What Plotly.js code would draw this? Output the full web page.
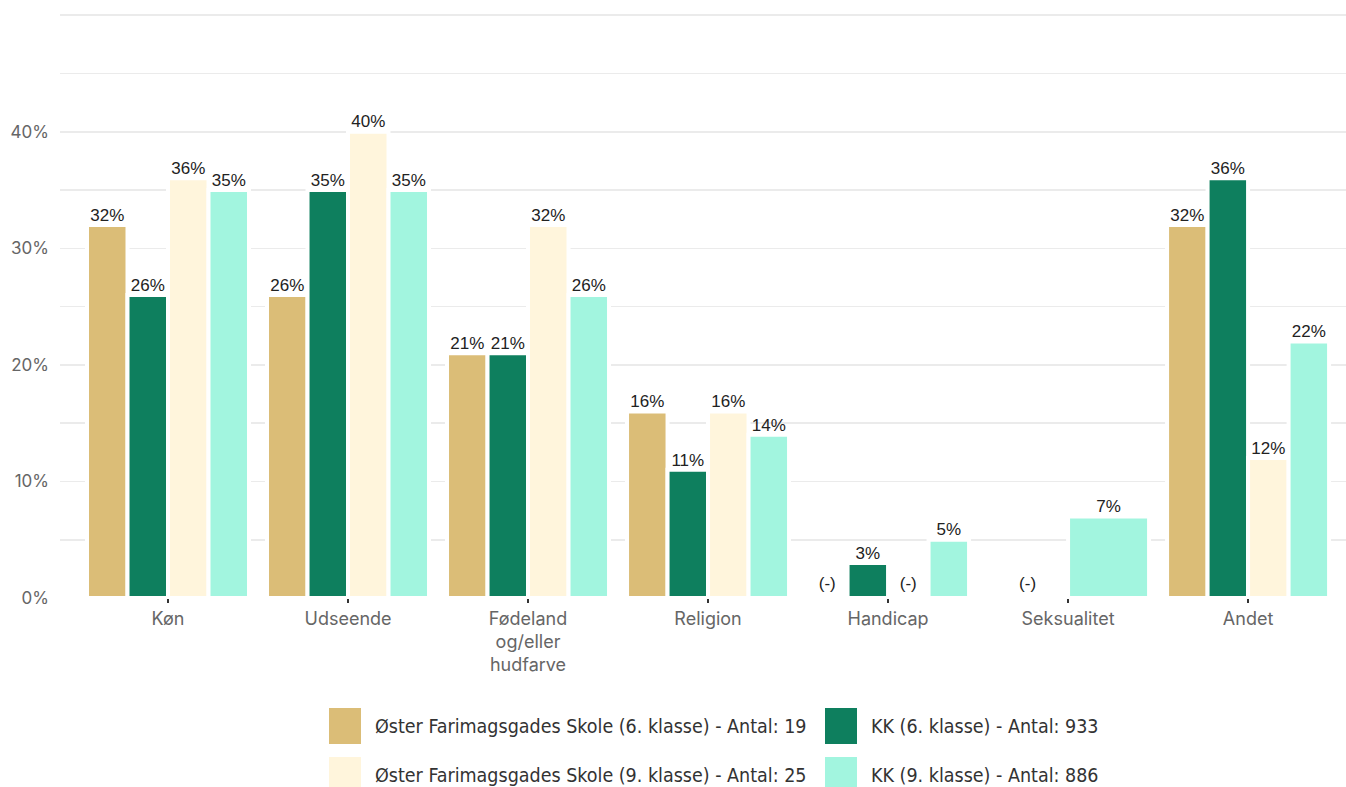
<!DOCTYPE html>
<html>
<head>
<meta charset="utf-8">
<script src="https://cdn.plot.ly/plotly-3.0.1.min.js"></script>
<style>
html,body{margin:0;padding:0;background:#fff;}
#chart{width:1346px;height:787px;}
</style>
</head>
<body>
<div id="chart"></div>
<script>
// ---- data ----
const categories = ["Køn", "Udseende", "Fødeland<br>og/eller<br>hudfarve", "Religion", "Handicap", "Seksualitet", "Andet"];
// '-' = suppressed value shown as "(-)", null = no bar in that group
const seriesNames = [
  "Øster Farimagsgades Skole (6. klasse) - Antal: 19",
  "KK (6. klasse) - Antal: 933",
  "Øster Farimagsgades Skole (9. klasse) - Antal: 25",
  "KK (9. klasse) - Antal: 886"
];
const skole6 = [32, 26, 21, 16, '-', '-', 32];
const kk6    = [26, 35, 21, 11, 3, null, 36];
const skole9 = [36, 40, 32, 16, '-', null, 12];
const kk9    = [35, 35, 26, 14, 5, 7, 22];
const colors = ["#DBBD77", "#0E7F5E", "#FFF5DC", "#A2F5DF"];
const yTickVals = [0, 10, 20, 30, 40, 50];
const yTickText = ["0%", "10%", "20%", "30%", "40%", ""];

const seriesVals = [skole6, kk6, skole9, kk9];

// ---- dodge positions (like ggplot position_dodge) ----
const groupWidth = 0.9;
const pos = seriesVals.map(() => []);
const wid = seriesVals.map(() => []);
categories.forEach((c, i) => {
  const present = [];
  seriesVals.forEach((s, k) => { if (s[i] !== null) present.push(k); });
  const n = present.length;
  present.forEach((k, j) => {
    pos[k][i] = i - groupWidth / 2 + (j + 0.5) * groupWidth / n;
    wid[k][i] = groupWidth / n;
  });
  seriesVals.forEach((s, k) => { if (s[i] === null) { pos[k][i] = null; wid[k][i] = 0; } });
});

const traces = [];
seriesVals.forEach((s, k) => {
  traces.push({
    type: 'bar',
    x: pos[k],
    y: s.map(v => (typeof v === 'number' ? v : null)),
    width: wid[k].map(w => w || 0.01),
    marker: { color: colors[k], line: { color: '#ffffff', width: 4 } },
    name: seriesNames[k],
    showlegend: false,
    hoverinfo: 'skip'
  });
});
seriesVals.forEach((s, k) => {
  const xs = [], ys = [], ts = [];
  s.forEach((v, i) => {
    if (v === null) return;
    xs.push(pos[k][i]);
    if (v === '-') { ys.push(0.4); ts.push('(-)'); }
    else { ys.push(v); ts.push(v + '%'); }
  });
  traces.push({
    type: 'scatter', mode: 'text',
    x: xs, y: ys, text: ts,
    textposition: 'top center',
    textfont: { family: 'Liberation Sans, Arial, sans-serif', size: 17, color: '#222222' },
    showlegend: false, hoverinfo: 'skip', cliponaxis: false
  });
});

// ---- custom legend (large square keys) ----
const W = 1346, H = 787, mL = 60, mR = 0, mT = 14, mB = 189;
const pw = W - mL - mR, ph = H - mT - mB;
const px = x => (x - mL) / pw;
const py = y => (H - mB - y) / ph;
const legendCols = [329, 825];
const legendRows = [726, 775];
const shapes = [], annotations = [];
seriesNames.forEach((nm, k) => {
  const col = k % 2, row = Math.floor(k / 2);
  const x0 = legendCols[col], yc = legendRows[row];
  shapes.push({
    type: 'rect', xref: 'paper', yref: 'paper',
    x0: px(x0), x1: px(x0 + 32), y0: py(yc - 18), y1: py(yc + 18),
    fillcolor: colors[k], line: { width: 0 }
  });
  annotations.push({
    xref: 'paper', yref: 'paper', x: px(x0 + 44), y: py(yc),
    xanchor: 'left', yanchor: 'middle', showarrow: false,
    text: nm,
    font: { family: 'Liberation Sans Narrow, DejaVu Sans Condensed, Roboto, sans-serif', size: 19.5, color: '#333333' }
  });
});

const layout = {
  width: W, height: H,
  margin: { l: mL, r: mR, t: mT, b: mB },
  paper_bgcolor: '#ffffff', plot_bgcolor: '#ffffff',
  barmode: 'overlay',
  showlegend: false,
  xaxis: {
    range: [-0.6, 6.544],
    tickmode: 'array', tickvals: categories.map((c, i) => i), ticktext: categories,
    ticks: 'outside', ticklen: 4, tickwidth: 2, tickcolor: '#333333',
    showgrid: false, zeroline: false, showline: false,
    tickfont: { family: 'Inter, DejaVu Sans, sans-serif', size: 18, color: '#666666' },
    fixedrange: true
  },
  yaxis: {
    range: [0, 50.1],
    tickmode: 'array', tickvals: yTickVals, ticktext: yTickText,
    showgrid: true, gridcolor: '#EBEBEB', gridwidth: 1.6,
    minor: { tickmode: 'linear', tick0: 0, dtick: 5, showgrid: true, gridcolor: '#EBEBEB', gridwidth: 1.6 },
    zeroline: false, showline: false, ticks: '',
    ticklabelstandoff: 10,
    tickfont: { family: 'Inter, DejaVu Sans, sans-serif', size: 17, color: '#666666' },
    fixedrange: true
  },
  shapes: shapes,
  annotations: annotations
};

Plotly.newPlot('chart', traces, layout, { displayModeBar: false, staticPlot: true });
</script>
</body>
</html>
